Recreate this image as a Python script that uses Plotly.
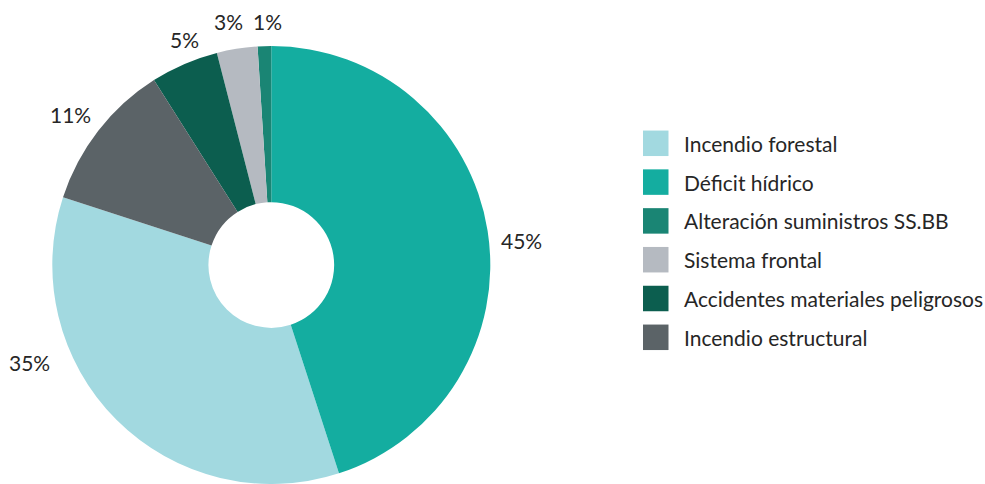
import plotly.graph_objects as go

# Emergencias por tipo (porcentaje)
categories = [
    "Incendio forestal",
    "Déficit hídrico",
    "Alteración suministros SS.BB",
    "Sistema frontal",
    "Accidentes materiales peligrosos",
    "Incendio estructural",
]
values = [35, 45, 1, 3, 5, 11]
colors = ["#a2d9e0", "#14ada0", "#1a8574", "#b5bac1", "#0c5e4f", "#5b6367"]

W, H = 985, 484
FONT = "Lato"
TEXT_COLOR = "#262626"

# Donut geometry (pixels)
cx, top, r = 271.3, 46, 219
cy = top + r

total = sum(values)
# Slices run counter-clockwise; "Déficit hídrico" ends at 12 o'clock
# and "Incendio forestal" sits just before it.
rotation = 360 * values[1] / total

fig = go.Figure(
    go.Pie(
        labels=categories,
        values=values,
        sort=False,
        direction="counterclockwise",
        rotation=rotation,
        hole=0.287,
        marker=dict(colors=colors, line=dict(width=0)),
        textinfo="none",
        hoverinfo="label+percent",
        domain=dict(x=[(cx - r) / W, (cx + r) / W], y=[1 - (cy + r) / H, 1 - top / H]),
        showlegend=False,
    )
)

# Percentage labels around the ring (pixel anchors, one per category)
label_px = [(29.5, 362.5), (521.5, 240.5), (267.5, 21.5), (228, 21.5), (184, 39), (70.5, 114.5)]
annotations = []
for v, (px, py) in zip(values, label_px):
    annotations.append(dict(
        x=px / W, y=1 - py / H, xref="paper", yref="paper",
        text=f"{v}%", showarrow=False, xanchor="center", yanchor="middle",
        font=dict(family=FONT, size=21, color=TEXT_COLOR),
    ))

# Custom legend: square swatches with labels
shapes = []
leg_x0, leg_y0, leg_step, sw = 643, 143.3, 38.8, 25.5
for i, (name, col) in enumerate(zip(categories, colors)):
    yc = leg_y0 + i * leg_step
    shapes.append(dict(
        type="rect", xref="paper", yref="paper",
        x0=leg_x0 / W, x1=(leg_x0 + sw) / W,
        y0=1 - (yc + sw / 2) / H, y1=1 - (yc - sw / 2) / H,
        fillcolor=col, line=dict(width=0),
    ))
    annotations.append(dict(
        x=682 / W, y=1 - yc / H, xref="paper", yref="paper",
        text=name, showarrow=False, xanchor="left", yanchor="middle",
        font=dict(family=FONT, size=21, color=TEXT_COLOR),
    ))

fig.update_layout(
    width=W, height=H,
    margin=dict(l=0, r=0, t=0, b=0),
    paper_bgcolor="white", plot_bgcolor="white",
    shapes=shapes, annotations=annotations,
)

fig.write_html("out.html")
